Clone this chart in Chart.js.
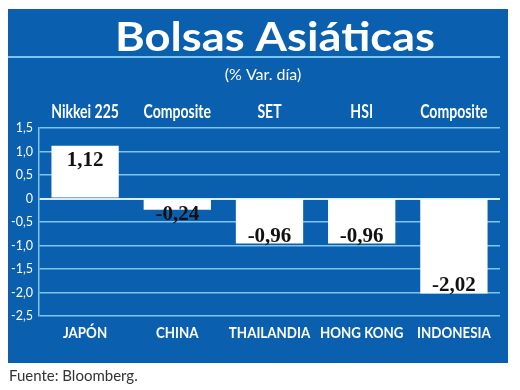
<!DOCTYPE html>
<html><head><meta charset="utf-8">
<script src="https://cdn.jsdelivr.net/npm/chart.js@4"></script>
<style>html,body{margin:0;padding:0;background:#fff;}#wrap{width:520px;height:390px;}</style>
</head><body><div id="wrap"><canvas id="c" width="520" height="390"></canvas></div>
<script>
const countries = ["JAPÓN", "CHINA", "THAILANDIA", "HONG KONG", "INDONESIA"];
const indices = ["Nikkei 225", "Composite", "SET", "HSI", "Composite"];
const values = [1.12, -0.24, -0.96, -0.96, -2.02];
const yTicks = [1.5, 1.0, 0.5, 0, -0.5, -1.0, -1.5, -2.0, -2.5];
const titleText = "Bolsas Asiáticas";
const subtitleText = "(% Var. día)";
const sourceText = "Fuente: Bloomberg.";

const BLUE = '#0a5fae', LIGHT = '#7cc6ee';

function condensedText(c, text, x, y, sx) {
  c.save(); c.translate(x, y); c.scale(sx, 1); c.fillText(text, 0, 0); c.restore();
}

const decor = {
  id: 'decor',
  beforeDraw(chart) {
    const c = chart.ctx;
    c.save();
    c.fillStyle = BLUE;
    c.fillRect(8, 9, 500, 354);
    c.strokeStyle = LIGHT; c.lineWidth = 2;
    c.beginPath(); c.moveTo(8, 57); c.lineTo(500, 57); c.stroke();
    c.fillStyle = '#fff';
    c.textAlign = 'center'; c.textBaseline = 'alphabetic';
    c.font = 'bold 40px Lato, sans-serif';
    const w = c.measureText(titleText).width;
    condensedText(c, titleText, 275, 51, 320 / w);
    c.font = '16px Lato, sans-serif';
    c.fillText(subtitleText, 263, 80);
    c.fillStyle = '#333';
    c.textAlign = 'left';
    c.font = '15px Lato, sans-serif';
    c.fillText(sourceText, 9, 381);
    c.restore();
  },
  afterDraw(chart) {
    const c = chart.ctx;
    const xs = chart.scales.x;
    c.save();
    c.fillStyle = '#fff';
    c.textAlign = 'center'; c.textBaseline = 'alphabetic';
    c.font = 'bold 18px Lato, sans-serif';
    indices.forEach((t, i) => condensedText(c, t, xs.getPixelForValue(i), 118, 0.78));
    c.font = 'bold 15.5px Lato, sans-serif';
    countries.forEach((t, i) => condensedText(c, t, xs.getPixelForValue(i), 338, 0.86));
    c.restore();
  },
  afterDatasetsDraw(chart) {
    const c = chart.ctx;
    const meta = chart.getDatasetMeta(0);
    c.save();
    c.fillStyle = '#111';
    c.font = 'bold 21px "Liberation Serif", serif';
    c.textAlign = 'center';
    c.textBaseline = 'alphabetic';
    meta.data.forEach((bar, i) => {
      const v = chart.data.datasets[0].data[i];
      const label = (v < 0 ? '-' : '') + Math.abs(v).toFixed(2).replace('.', ',');
      if (v >= 0) {
        c.fillText(label, bar.x, bar.y + 20);
      } else {
        c.fillText(label, bar.x, Math.max(bar.y - 2, bar.base + 20));
      }
    });
    c.restore();
  }
};

new Chart(document.getElementById('c'), {
  type: 'bar',
  data: {
    labels: countries,
    datasets: [{ data: values, backgroundColor: '#fff', borderWidth: 0,
      categoryPercentage: 1, barPercentage: 0.73 }]
  },
  options: {
    responsive: false, animation: false,
    layout: { padding: { left: 0, right: 20, top: 128, bottom: 0 } },
    plugins: { legend: { display: false }, tooltip: { enabled: false } },
    scales: {
      x: {
        position: 'bottom',
        grid: { display: false, drawTicks: false },
        border: { display: false },
        ticks: { display: false },
        afterFit(s) { s.height = 74; }
      },
      y: {
        min: -2.5, max: 1.5,
        afterBuildTicks(s) { s.ticks = yTicks.map(v => ({ value: v })); },
        grid: { color: ctx => ctx.tick && ctx.tick.value === 0 ? '#d6efff' : LIGHT, lineWidth: ctx => ctx.tick && ctx.tick.value === 0 ? 2 : 1.5, drawTicks: false },
        border: { display: true, color: LIGHT, width: 1.5 },
        ticks: { color: '#fff', font: { family: 'Lato, sans-serif', size: 12.5 }, padding: 6,
          callback: v => v === 0 ? '0' : v.toFixed(1).replace('.', ',') },
        afterFit(s) { s.width = 39; }
      }
    }
  },
  plugins: [decor]
});
</script></body></html>
